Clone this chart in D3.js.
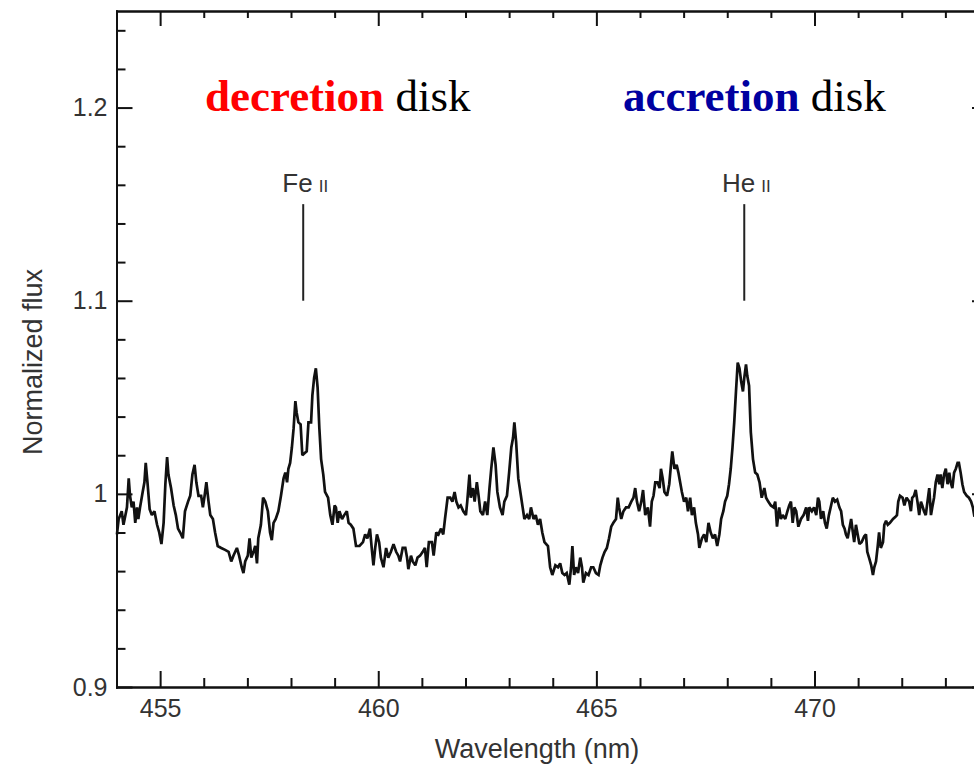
<!DOCTYPE html>
<html><head><meta charset="utf-8">
<script src="https://cdn.jsdelivr.net/npm/d3@7"></script>
<style>body{margin:0;background:#fff}</style>
</head><body><svg id="c" width="974" height="765"></svg>
<script>
// ---- data ----
const wavelength = [
454.01,454.05,454.12,454.16,454.24,454.28,454.31,454.35,454.39,454.43,454.47,454.50,454.54,454.60,454.64,454.67,454.71,454.76,454.81,454.87,454.93,454.98,455.03,455.08,455.12,455.16,455.19,455.25,455.31,455.36,455.41,455.46,455.52,455.57,455.64,455.69,455.74,455.79,455.83,455.88,455.94,455.98,456.02,456.06,456.11,456.15,456.21,456.26,456.32,456.40,456.49,456.57,456.63,456.68,456.76,456.81,456.87,456.91,456.95,457.01,457.05,457.09,457.14,457.18,457.22,457.25,457.31,457.36,457.41,457.47,457.52,457.56,457.60,457.65,457.71,457.77,457.83,457.87,457.91,457.94,457.98,458.02,458.06,458.10,458.13,458.17,458.22,458.26,458.31,458.36,458.40,458.46,458.49,458.53,458.57,458.61,458.65,458.69,458.74,458.78,458.85,458.90,458.95,459.00,
459.03,459.07,459.11,459.17,459.22,459.28,459.32,459.37,459.43,459.49,459.57,459.65,459.70,459.75,459.81,459.85,459.89,459.93,459.97,460.02,460.06,460.12,460.18,460.23,460.29,460.35,460.41,460.46,460.50,460.56,460.62,460.66,460.69,460.75,460.79,460.85,460.90,460.96,461.02,461.07,461.11,461.16,461.23,461.27,461.33,461.38,461.44,461.49,461.53,461.59,461.65,461.70,461.75,461.79,461.84,461.89,461.95,462.01,462.04,462.09,462.12,462.17,462.21,462.26,462.30,462.34,462.40,462.45,462.50,462.55,462.59,462.64,462.69,462.73,462.79,462.85,462.89,462.95,463.00,463.05,463.09,463.12,463.16,463.21,463.27,463.31,463.35,463.41,463.46,463.50,463.56,463.61,463.66,463.71,463.76,463.81,
463.89,463.94,463.99,464.06,464.12,464.17,464.22,464.27,464.32,464.38,464.42,464.45,464.49,464.53,464.58,464.63,464.67,464.70,464.76,464.82,464.88,464.93,464.99,465.05,465.09,465.14,465.19,465.24,465.29,465.34,465.39,465.45,465.49,465.52,465.57,465.62,465.68,465.74,465.80,465.85,465.89,465.93,465.98,466.03,466.07,466.12,466.18,466.23,466.27,466.31,466.35,466.40,466.45,466.48,466.52,466.56,466.62,466.67,466.71,466.74,466.79,466.84,466.88,466.92,466.96,467.01,467.06,467.10,467.15,467.19,467.24,467.28,467.33,467.36,467.42,467.47,467.52,467.57,467.62,467.67,467.72,467.77,467.82,467.86,467.91,467.95,468.00,468.04,468.08,468.12,468.16,468.20,468.24,468.28,468.32,468.36,468.39,468.43,468.46,468.50,468.54,468.59,468.64,468.69,468.74,468.79,
468.85,468.89,468.94,469.00,469.06,469.10,469.14,469.19,469.23,469.27,469.33,469.38,469.42,469.46,469.50,469.54,469.58,469.63,469.69,469.75,469.81,469.85,469.88,469.94,469.99,470.04,470.08,470.11,470.15,470.20,470.24,470.28,470.33,470.38,470.42,470.47,470.52,470.57,470.61,470.65,470.69,470.72,470.76,470.80,470.84,470.88,470.91,470.95,470.99,471.03,471.08,471.14,471.18,471.21,471.25,471.30,471.34,471.37,471.41,471.45,471.48,471.52,471.57,471.60,471.64,471.68,471.73,471.80,471.85,471.89,471.92,471.96,472.02,472.06,472.11,472.17,472.21,472.24,472.28,472.32,472.36,472.40,472.44,472.47,472.51,472.55,472.59,472.63,472.67,472.70,472.74,472.78,472.82,472.86,472.89,472.93,472.97,473.01,473.05,473.09,473.12,473.16,473.20,473.24,473.28,473.31,473.35,473.39,473.43,473.49,473.54,473.59,473.63,473.66,473.75
];
const flux = [
0.979,0.987,0.991,0.984,0.993,1.008,0.999,0.993,0.996,0.985,0.993,0.987,0.993,1.001,1.006,1.016,1.006,0.992,0.989,0.991,0.984,0.980,0.974,0.985,1.005,1.019,1.010,1.003,0.994,0.989,0.982,0.980,0.977,0.991,0.996,0.999,1.010,1.015,1.006,0.999,0.999,0.993,0.999,1.006,0.996,0.989,0.987,0.980,0.973,0.972,0.971,0.970,0.965,0.968,0.972,0.968,0.962,0.959,0.965,0.968,0.977,0.967,0.970,0.973,0.964,0.977,0.984,0.998,0.996,0.991,0.980,0.976,0.985,0.987,0.991,0.999,1.008,1.011,1.006,1.013,1.016,1.024,1.034,1.048,1.042,1.037,1.036,1.020,1.021,1.022,1.037,1.037,1.051,1.060,1.065,1.055,1.034,1.018,1.010,1.001,0.998,0.989,0.984,0.994,
0.993,0.985,0.991,0.987,0.989,0.991,0.985,0.984,0.982,0.973,0.973,0.975,0.979,0.977,0.982,0.972,0.963,0.972,0.979,0.975,0.967,0.962,0.972,0.967,0.970,0.974,0.970,0.968,0.965,0.972,0.972,0.967,0.961,0.968,0.965,0.963,0.967,0.968,0.970,0.972,0.962,0.975,0.975,0.968,0.980,0.979,0.982,0.979,0.987,0.998,0.998,0.996,1.001,0.996,0.993,0.994,0.991,0.989,0.996,1.010,0.998,1.003,0.996,1.006,0.999,0.991,0.989,0.996,0.989,1.003,1.013,1.024,1.015,1.001,0.993,0.989,0.996,0.999,1.011,1.024,1.029,1.037,1.027,1.008,0.999,0.993,0.987,0.989,0.987,0.993,0.987,0.989,0.984,0.987,0.980,0.975,
0.973,0.962,0.958,0.963,0.962,0.964,0.959,0.958,0.959,0.953,0.962,0.973,0.958,0.962,0.959,0.967,0.962,0.954,0.959,0.958,0.962,0.962,0.959,0.958,0.963,0.967,0.970,0.972,0.977,0.983,0.985,0.987,0.998,0.993,0.987,0.991,0.993,0.993,0.996,0.998,1.003,0.996,0.991,0.996,1.002,0.989,0.993,0.983,0.996,0.999,1.006,1.006,1.003,1.013,1.008,1.001,0.999,1.005,1.015,1.022,1.013,1.015,1.011,1.006,1.001,0.996,0.998,0.991,0.998,0.989,0.993,0.985,0.979,0.972,0.977,0.979,0.975,0.985,0.980,0.977,0.979,0.973,0.979,0.987,0.991,0.996,0.999,1.005,1.013,1.024,1.037,1.053,1.068,1.065,1.058,1.053,1.060,1.067,1.061,1.056,1.032,1.018,1.011,1.010,1.006,0.998,
1.003,0.998,0.996,0.994,0.993,0.996,0.983,0.993,0.987,0.989,0.987,0.991,0.994,0.996,0.985,0.993,0.991,0.983,0.987,0.989,0.993,0.986,0.993,0.991,0.993,0.989,0.998,0.996,0.987,0.991,0.985,0.982,0.989,0.994,0.998,0.996,0.997,0.993,0.991,0.984,0.982,0.979,0.977,0.982,0.987,0.980,0.975,0.984,0.979,0.974,0.975,0.978,0.979,0.970,0.967,0.963,0.958,0.962,0.965,0.973,0.980,0.972,0.975,0.984,0.986,0.984,0.985,0.987,0.988,0.989,0.996,0.999,0.998,0.994,0.998,0.996,0.991,0.998,0.999,1.002,0.996,0.989,0.996,0.994,0.991,0.989,0.996,1.003,0.989,0.993,0.998,1.006,1.010,1.005,1.010,1.003,1.010,1.013,1.005,1.011,1.006,1.003,1.011,1.013,1.016,1.016,1.011,1.005,1.001,0.999,0.998,0.996,0.993,0.989,0.990
];
const xMajorTicks = [455, 460, 465, 470];
const xTickLabels = ["455", "460", "465", "470"];
const yMajorTicks = [0.9, 1.0, 1.1, 1.2];
const yTickLabels = ["0.9", "1", "1.1", "1.2"];
const lineIds = ["Fe", "He"];
const lineStages = ["II", "II"];
const lineWavelengths = [458.28, 468.39];
const markFlux = [1.10, 1.15];
const diskWords = ["decretion", "accretion"];
const diskColors = ["#ff0000", "#0000a0"];
const xTitle = "Wavelength (nm)";
const yTitle = "Normalized flux";

if (wavelength.length !== flux.length) console.error("length mismatch", wavelength.length, flux.length);

// ---- drawing ----
const svg = d3.select("#c");
svg.append("rect").attr("width", 974).attr("height", 765).attr("fill", "#fff");

const x = d3.scaleLinear().domain([454, 474]).range([116.5, 989]);
const y = d3.scaleLinear().domain([0.9, 1.25]).range([687, 11]);

const xMinor = d3.range(454, 475, 1).filter(v => !xMajorTicks.includes(v));
const yMinor = d3.range(0, 18).map(i => +(0.9 + i * 0.02).toFixed(2)).filter(v => !yMajorTicks.some(m => Math.abs(m - v) < 1e-9));

const SANS = "'Liberation Sans', Arial, Helvetica, sans-serif";
const SERIF = "'Liberation Serif', 'Times New Roman', serif";

function styleAxis(g) {
  g.select(".domain").attr("stroke", "#111").attr("stroke-width", 2).attr("stroke-linecap", "square");
  g.selectAll(".tick line").attr("stroke", "#111").attr("stroke-width", 2);
  g.selectAll(".tick text").attr("fill", "#333").style("font-family", SANS).style("font-size", "25px");
  g.attr("font-family", null).attr("font-size", null);
}

// bottom
svg.append("g").attr("transform", "translate(0,687)")
  .call(d3.axisBottom(x).tickValues(xMinor).tickSize(-9).tickSizeOuter(0).tickFormat(""))
  .call(styleAxis);
svg.append("g").attr("transform", "translate(0,687)")
  .call(d3.axisBottom(x).tickValues(xMajorTicks).tickSize(-16).tickSizeOuter(0).tickPadding(12)
    .tickFormat((d, i) => xTickLabels[i]))
  .call(styleAxis);
// top
svg.append("g").attr("transform", "translate(0,11)")
  .call(d3.axisTop(x).tickValues(xMinor).tickSize(-7).tickSizeOuter(0).tickFormat(""))
  .call(styleAxis);
svg.append("g").attr("transform", "translate(0,11)")
  .call(d3.axisTop(x).tickValues(xMajorTicks).tickSize(-15).tickSizeOuter(0).tickFormat(""))
  .call(styleAxis);
// left
svg.append("g").attr("transform", "translate(116.5,0)")
  .call(d3.axisLeft(y).tickValues(yMinor).tickSize(-9).tickSizeOuter(0).tickFormat(""))
  .call(styleAxis);
svg.append("g").attr("transform", "translate(116.5,0)")
  .call(d3.axisLeft(y).tickValues(yMajorTicks).tickSize(-16).tickSizeOuter(0).tickPadding(9)
    .tickFormat((d, i) => yTickLabels[i]))
  .call(styleAxis);
// right
svg.append("g").attr("transform", "translate(989,0)")
  .call(d3.axisRight(y).tickValues(yMinor).tickSize(-9).tickSizeOuter(0).tickFormat(""))
  .call(styleAxis);
svg.append("g").attr("transform", "translate(989,0)")
  .call(d3.axisRight(y).tickValues(yMajorTicks).tickSize(-17).tickSizeOuter(0).tickFormat(""))
  .call(styleAxis);

// spectrum
const pts = wavelength.map((w, i) => [w, flux[i]]);
svg.append("path").datum(pts)
  .attr("fill", "none").attr("stroke", "#111").attr("stroke-width", 2.7)
  .attr("stroke-linejoin", "miter").attr("stroke-miterlimit", 2)
  .attr("d", d3.line().x(d => x(d[0])).y(d => y(d[1])));

// line identifications
lineWavelengths.forEach((w, i) => {
  svg.append("line")
    .attr("x1", x(w)).attr("x2", x(w))
    .attr("y1", y(markFlux[0])).attr("y2", y(markFlux[1]))
    .attr("stroke", "#222").attr("stroke-width", 2);
  const t = svg.append("text")
    .attr("x", x(w) + 2).attr("y", y(markFlux[1]) - 12)
    .attr("text-anchor", "middle").attr("fill", "#333")
    .style("font-family", SANS).style("font-size", "26px");
  t.append("tspan").text(lineIds[i]);
  t.append("tspan").attr("dx", 6).style("font-size", "17px").text(lineStages[i]);
});

// disk labels
const diskX = [205, 623];
diskWords.forEach((wd, i) => {
  const t = svg.append("text").attr("x", diskX[i]).attr("y", 111)
    .style("font-family", SERIF).style("font-size", "45px");
  t.append("tspan").attr("fill", diskColors[i]).attr("font-weight", "bold").text(wd);
  t.append("tspan").attr("fill", "#000").text(" disk");
});

// axis titles
svg.append("text").attr("x", 537).attr("y", 758).attr("text-anchor", "middle")
  .attr("fill", "#333").style("font-family", SANS).style("font-size", "27px").text(xTitle);
svg.append("text").attr("transform", "translate(42,362) rotate(-90)").attr("text-anchor", "middle")
  .attr("fill", "#333").style("font-family", SANS).style("font-size", "27px").text(yTitle);
</script>
</body></html>
